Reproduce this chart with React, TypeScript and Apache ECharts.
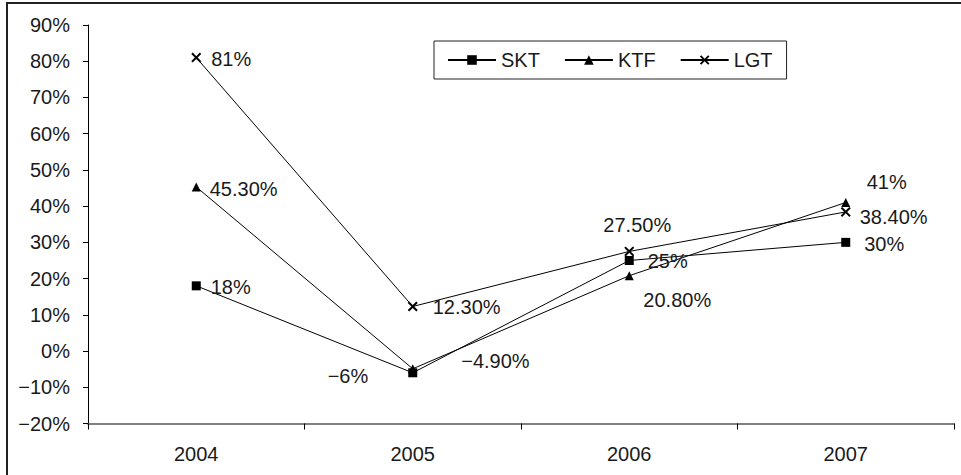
import React, { useEffect, useRef } from "react";
import * as echarts from "echarts";

const categories = ["2004", "2005", "2006", "2007"];
const seriesNames = ["SKT", "KTF", "LGT"];
const sktValues = [18, -6, 25, 30];
const ktfValues = [45.3, -4.9, 20.8, 41];
const lgtValues = [81, 12.3, 27.5, 38.4];

const FONT = "'Liberation Sans', Arial, sans-serif";
const FS = 20;
const TXT = "#1a1a1a";

const xPath =
  "path://M0,1.4L1.4,0L5,3.6L8.6,0L10,1.4L6.4,5L10,8.6L8.6,10L5,6.4L1.4,10L0,8.6L3.6,5Z";

const fmt = (v: number) => {
  const s = Number.isInteger(v) ? String(Math.abs(v)) : Math.abs(v).toFixed(2);
  return (v < 0 ? "−" : "") + s + "%";
};

// per-point label placement (style only)
const placements: Record<string, any[]> = {
  SKT: [
    { position: "right", distance: 10, offset: [0, 1] },
    { position: "left", distance: 40, offset: [0, 3] },
    { position: "right", distance: 14, offset: [0, 1] },
    { position: "right", distance: 14, offset: [0, 2] },
  ],
  KTF: [
    { position: "right", distance: 9, offset: [0, 2] },
    { position: "right", distance: 44, offset: [0, -8] },
    { position: "bottom", distance: 10, offset: [48, 0] },
    { position: "top", distance: 6, offset: [41, 0] },
  ],
  LGT: [
    { position: "right", distance: 10, offset: [0, 1] },
    { position: "right", distance: 15, offset: [0, 1] },
    { position: "top", distance: 11, offset: [8, 0] },
    { position: "right", distance: 9, offset: [0, 5] },
  ],
};

export default function App() {
  const ref = useRef<HTMLDivElement>(null);
  useEffect(() => {
    if (!ref.current) return;
    const chart = echarts.init(ref.current, null, { renderer: "svg" });
    const valuesList = [sktValues, ktfValues, lgtValues];
    const symbols = ["rect", "triangle", xPath];
    const symbolSizes = [9, 9, 10];
    const series = seriesNames.map((name, si) => ({
      name,
      type: "line",
      symbol: symbols[si],
      symbolSize: symbolSizes[si],
      lineStyle: { color: "#000", width: 1 },
      itemStyle: { color: "#000" },
      emphasis: { disabled: true },
      data: valuesList[si].map((v, i) => ({
        value: v,
        label: {
          show: true,
          formatter: fmt(v),
          color: TXT,
          fontFamily: FONT,
          fontSize: FS,
          ...placements[name][i],
        },
      })),
    }));
    chart.setOption({
      animation: false,
      backgroundColor: "#fff",
      textStyle: { fontFamily: FONT, fontSize: FS, color: TXT },
      graphic: [
        {
          type: "rect",
          shape: { x: 7, y: 3, width: 1000, height: 500 },
          style: { fill: "none", stroke: "#222", lineWidth: 2 },
          silent: true,
        },
      ],
      legend: {
        left: 434,
        top: 41,
        orient: "horizontal",
        padding: [9, 14, 9, 13],
        borderColor: "#222",
        borderWidth: 1,
        itemWidth: 48,
        itemHeight: 12,
        itemGap: 24,
        textStyle: { fontFamily: FONT, fontSize: FS, color: TXT },
        data: seriesNames,
      },
      grid: { left: 88, top: 25, right: 7, bottom: 51.5, containLabel: false },
      xAxis: {
        type: "category",
        data: categories,
        boundaryGap: true,
        axisLine: { onZero: false, lineStyle: { color: "#808080", width: 2 } },
        axisTick: { show: true, length: 6, lineStyle: { color: "#000", width: 1 } },
        axisLabel: { margin: 20, fontFamily: FONT, fontSize: FS, color: TXT },
        splitLine: { show: false },
      },
      yAxis: {
        type: "value",
        min: -20,
        max: 90,
        interval: 10,
        axisLine: { show: true, lineStyle: { color: "#000", width: 1 } },
        axisTick: { show: true, length: 5, lineStyle: { color: "#000" } },
        axisLabel: {
          margin: 18,
          fontFamily: FONT,
          fontSize: FS,
          color: TXT,
          formatter: (v: number) => (v < 0 ? "−" + -v : String(v)) + "%",
        },
        splitLine: { show: false },
      },
      series,
    });
    return () => chart.dispose();
  }, []);
  return (
    <div
      ref={ref}
      style={{ position: "fixed", left: 0, top: 0, width: 961, height: 475 }}
    />
  );
}
